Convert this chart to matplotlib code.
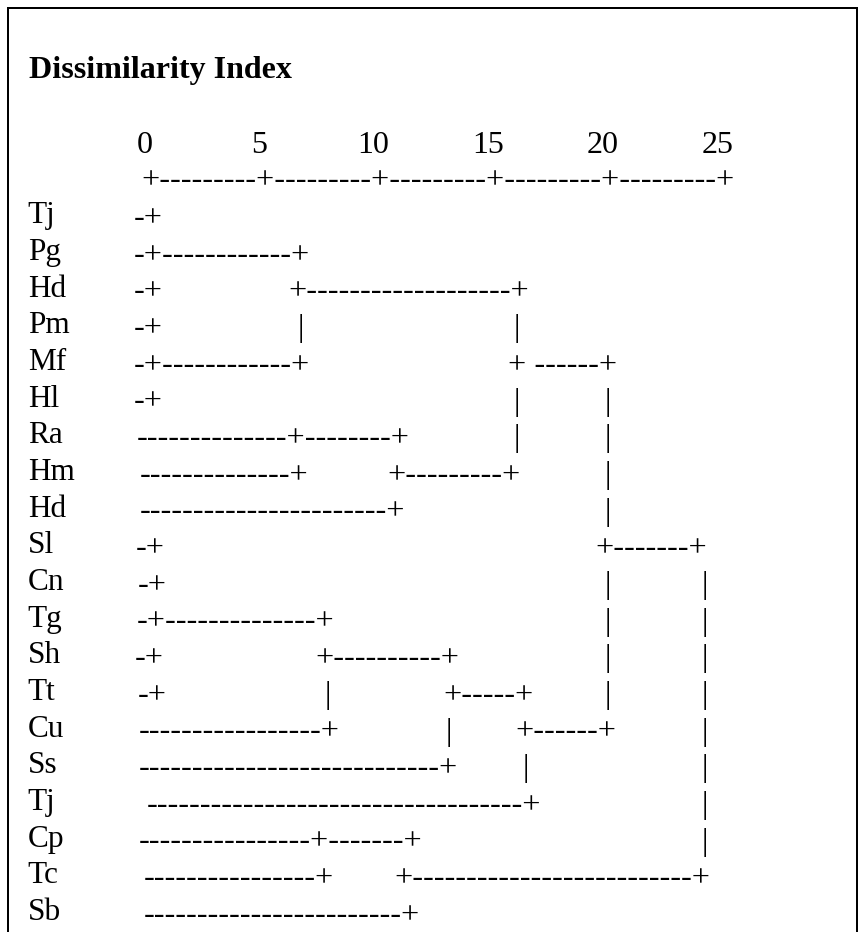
import matplotlib.pyplot as plt
from matplotlib.lines import Line2D

# chart text
title = "Dissimilarity Index"
ticks = [0, 5, 10, 15, 20, 25]
labels = ["Tj", "Pg", "Hd", "Pm", "Mf", "Hl", "Ra", "Hm", "Hd", "Sl",
          "Cn", "Tg", "Sh", "Tt", "Cu", "Ss", "Tj", "Cp", "Tc", "Sb"]

# ascii dendrogram, one list per case: (left edge on the 0-25 scale, piece)
rows = [
    [(-0.72, "-+")],
    [(-0.72, "-+" + "-" * 12 + "+")],
    [(-0.72, "-+"), (6.02, "+" + "-" * 19 + "+")],
    [(-0.72, "-+"), (6.42, "|"), (15.86, "|")],
    [(-0.72, "-+" + "-" * 12 + "+"), (15.63, "+ " + "-" * 6 + "+")],
    [(-0.72, "-+"), (15.88, "|"), (19.83, "|")],
    [(-0.58, "-" * 14 + "+" + "-" * 8 + "+"), (15.88, "|"), (19.83, "|")],
    [(-0.45, "-" * 14 + "+"), (10.37, "+" + "-" * 9 + "+"), (19.83, "|")],
    [(-0.45, "-" * 23 + "+"), (19.83, "|")],
    [(-0.60, "-+"), (19.45, "+" + "-" * 7 + "+")],
    [(-0.52, "-+"), (19.83, "|"), (24.06, "|")],
    [(-0.58, "-+" + "-" * 14 + "+"), (19.83, "|"), (24.06, "|")],
    [(-0.66, "-+"), (7.22, "+" + "-" * 10 + "+"), (19.83, "|"), (24.06, "|")],
    [(-0.55, "-+"), (7.64, "|"), (12.78, "+" + "-" * 5 + "+"), (19.83, "|"), (24.06, "|")],
    [(-0.47, "-" * 17 + "+"), (12.91, "|"), (15.92, "+" + "-" * 6 + "+"), (24.06, "|")],
    [(-0.47, "-" * 28 + "+"), (16.26, "|"), (24.06, "|")],
    [(-0.14, "-" * 35 + "+"), (24.06, "|")],
    [(-0.47, "-" * 16 + "+" + "-" * 7 + "+"), (24.06, "|")],
    [(-0.26, "-" * 16 + "+"), (10.68, "+" + "-" * 26 + "+")],
    [(-0.26, "-" * 24 + "+")],
]

W, H = 861, 932
fig = plt.figure(figsize=(W / 100, H / 100), dpi=100)
ax = fig.add_axes([0, 0, 1, 1])
# x in dissimilarity units, y in case rows
ax.set_xlim(-150 / 22.92, (W - 150) / 22.92)
ax.set_ylim((H - 218.4) / 36.66, -218.4 / 36.66)
ax.axis("off")

font = "Liberation Serif"
ax.text(-5.29, -3.82, title, family=font, fontsize=23, fontweight="bold",
        va="baseline", ha="left")

for t in ticks:
    ax.text(t - 0.25, -1.78, str(t), family=font, fontsize=23,
            va="baseline", ha="center")
axis_line = "+" + ("-" * 9 + "+") * (len(ticks) - 1)
ax.text(ticks[0] - 0.397, -0.826, axis_line, family=font, fontsize=23.2,
        va="baseline", ha="left")

for i, (lab, pieces) in enumerate(zip(labels, rows)):
    ax.text(-5.33, i + 0.136, lab, family=font, fontsize=22.5,
            va="baseline", ha="left")
    for x0, s in pieces:
        ax.text(x0, i + 0.22, s, family=font, fontsize=23.2,
                va="baseline", ha="left")

# frame around the output (open at the bottom)
lw = 2 * 72 / 100
fig.add_artist(Line2D([8 / W, 8 / W], [0, 1 - 8 / H], color="black", lw=lw))
fig.add_artist(Line2D([8 / W, 857 / W], [1 - 8 / H, 1 - 8 / H], color="black", lw=lw))
fig.add_artist(Line2D([857 / W, 857 / W], [0, 1 - 8 / H], color="black", lw=lw))

fig.savefig("out.png", dpi=100)
